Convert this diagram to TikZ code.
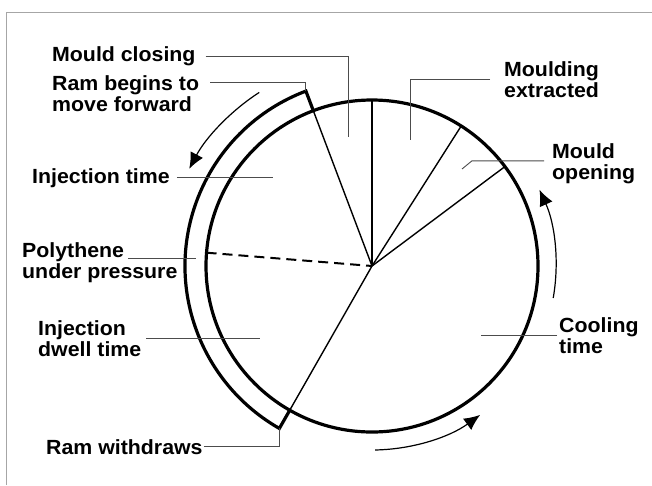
\documentclass[tikz,border=0pt]{standalone}
\usepackage{fontspec}
\newfontfamily\lblfont{Liberation Sans}[FakeStretch=1.04]
\usetikzlibrary{arrows.meta,calc}
\begin{document}
\begin{tikzpicture}[x=1pt,y=-1pt,
  lbl/.style={font=\lblfont\bfseries\fontsize{20.5}{21}\selectfont, inner sep=0pt, anchor=north west, align=left},
  rim/.style={line width=3.2pt},
  spoke/.style={line width=1.4pt},
  dashspoke/.style={line width=2pt, dash pattern=on 10pt off 6pt},
  leader/.style={line width=0.9pt, draw=black!70},
  cyc/.style={line width=1.2pt, -{Latex[length=16pt,width=14pt]}},
  framel/.style={draw=black!35, line width=1pt}]
\useasboundingbox (0,0) rectangle (652,485);
\fill[white] (0,0) rectangle (652,485);
\draw[framel] (6.7,485) -- (6.7,12.7) -- (652,12.7);

\coordinate (C) at (372,266);
% main wheel
\draw[rim] (C) circle[radius=166];
% ram band
\coordinate (bTi) at ($(C)+(-110.7:166)$);
\coordinate (bTo) at ($(C)+(-110.7:187)$);
\coordinate (bBo) at ($(C)+(-240.3:187)$);
\coordinate (bBi) at ($(C)+(-240.3:166)$);
\draw[rim, line join=miter] (bTi) -- (bTo) arc[start angle=-110.7, end angle=-240.3, radius=187] -- (bBi);

% spokes
\coordinate (s90) at ($(C)+(-90:166)$);
\coordinate (s57) at ($(C)+(-57.5:166)$);
\coordinate (s37) at ($(C)+(-36.8:166)$);
\coordinate (s175) at ($(C)+(-175.4:166)$);
\draw[spoke] (C) -- (s90);
\draw[spoke] (C) -- (s57);
\draw[spoke] (C) -- (s37);
\draw[spoke] (C) -- (bTo);
\draw[spoke] (C) -- (bBo);
\draw[dashspoke] (s175) -- (C);

% cycle arrows
\draw[cyc] ($(C)+(-123:207)$) arc[start angle=-123, end angle=-152, radius=207];
\draw[cyc] ($(C)+(10:184)$) arc[start angle=10, end angle=-24.5, radius=184];
\draw[cyc] ($(C)+(89:184)$) arc[start angle=89, end angle=54, radius=184];

% labels
\node[lbl] (mc) at (52,46.7) {Mould closing};
\coordinate (mcE) at (348,137);
\draw[leader] ([xshift=10pt]mc.east) -| (mcE);

\node[lbl] (rb) at (52,75) {Ram begins to\\move forward};
\draw[leader] ($(rb.north east)+(11,7)$) -| (bTo);

\node[lbl] (me) at (504,61) {Moulding\\extracted};
\coordinate (meE) at (410,140);
\draw[leader] ([xshift=-14pt]me.west) -| (meE);

\node[lbl] (mo) at (552,143) {Mould\\opening};
\coordinate (moE) at (462,169);
\draw[leader] ($(mo.west)+(-8,-2.5)$) -- ++(-72,0) -- (moE);

\node[lbl] (it) at (32,168) {Injection time};
\coordinate (itE) at (273,178);
\draw[leader] ([xshift=7pt]it.east) -- (it.east -| itE);

\node[lbl] (pp) at (22,242) {Polythene\\under pressure};
\coordinate (ppE) at (196,258);
\draw[leader] ($(pp.north west)+(106,16)$) -- (ppE);

\node[lbl] (id) at (38,320) {Injection\\dwell time};
\coordinate (idE) at (260,338);
\draw[leader] ([xshift=5pt]id.east) -- (id.east -| idE);

\node[lbl] (rw) at (46,439) {Ram withdraws};
\draw[leader] ([xshift=1pt]rw.east) -| (bBo);

\node[lbl] (ct) at (559,317) {Cooling\\time};
\coordinate (ctE) at (481,336);
\draw[leader] ([xshift=-2pt]ct.west) -- (ct.west -| ctE);
\end{tikzpicture}
\end{document}
